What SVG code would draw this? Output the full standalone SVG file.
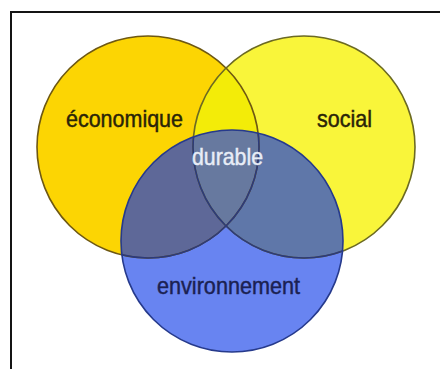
<svg xmlns="http://www.w3.org/2000/svg" width="440" height="369" viewBox="0 0 440 369">
  <style>
    .lbl { font-family: "Liberation Sans", Arial, sans-serif; font-size: 24px; stroke-width: 0.45; }
    .dark { fill: #2a2408; stroke: #2a2408; }
    .ring { fill: none; stroke-width: 1.6; }
  </style>
  <defs>
    <clipPath id="clip-eco"><circle cx="148" cy="147" r="111"/></clipPath>
    <clipPath id="clip-soc"><circle cx="304" cy="147" r="111"/></clipPath>
    <clipPath id="clip-env"><circle cx="232" cy="241" r="111"/></clipPath>
  </defs>

  <!-- page background and frame -->
  <rect x="0" y="0" width="440" height="369" fill="#ffffff"/>
  <rect x="11" y="12" width="440" height="370" fill="none" stroke="#141414" stroke-width="2"/>

  <!-- the three spheres -->
  <g id="economique">
    <circle cx="148" cy="147" r="111" fill="#fcd503"/>
    <text class="lbl dark" x="66" y="127" textLength="117" lengthAdjust="spacingAndGlyphs">économique</text>
  </g>
  <g id="social">
    <circle cx="304" cy="147" r="111" fill="#f9f53a"/>
    <text class="lbl dark" x="317" y="127" textLength="55" lengthAdjust="spacingAndGlyphs">social</text>
  </g>
  <g id="environnement">
    <circle cx="232" cy="241" r="111" fill="#6884f1"/>
    <text class="lbl" x="157" y="293.5" font-size="25" fill="#1b2152" stroke="#1b2152" textLength="143" lengthAdjust="spacingAndGlyphs">environnement</text>
  </g>

  <!-- overlap regions -->
  <g id="overlaps">
    <g clip-path="url(#clip-eco)">
      <circle cx="304" cy="147" r="111" fill="#f3ec08"/>
    </g>
    <g clip-path="url(#clip-env)">
      <circle cx="148" cy="147" r="111" fill="#5e6898"/>
      <circle cx="304" cy="147" r="111" fill="#5f77a9"/>
      <g clip-path="url(#clip-eco)">
        <circle cx="304" cy="147" r="111" fill="#67799f"/>
      </g>
    </g>
  </g>

  <!-- outlines -->
  <g id="connectors">
    <circle class="ring" cx="148" cy="147" r="111" stroke="#6e5812"/>
    <circle class="ring" cx="304" cy="147" r="111" stroke="#6c6a22"/>
    <g clip-path="url(#clip-env)">
      <circle class="ring" cx="148" cy="147" r="111" stroke="#2c3a7c"/>
      <circle class="ring" cx="304" cy="147" r="111" stroke="#2c3a7c"/>
    </g>
    <circle class="ring" cx="232" cy="241" r="111" stroke="#263a8c"/>
  </g>

  <!-- label of the common core -->
  <g id="durable">
    <text class="lbl" x="192" y="165" fill="#e8edf7" stroke="#e8edf7" stroke-width="0.3" textLength="71" lengthAdjust="spacingAndGlyphs">durable</text>
  </g>
</svg>
